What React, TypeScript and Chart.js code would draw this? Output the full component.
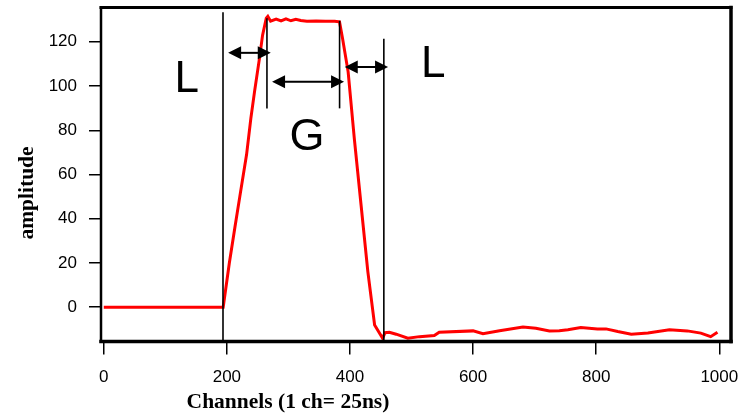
import React, { useEffect, useRef } from "react";
import { Chart, registerables } from "chart.js";

Chart.register(...registerables);

// ---- data ----
const channels = [
  0, 194, 204, 213, 221, 232, 239, 245, 253, 258, 264, 266.5, 271, 280, 288, 296, 304, 312, 320, 330, 345, 360, 375, 383,
  388, 397, 407, 418, 429, 440, 453, 457, 464, 475, 494, 513, 537, 545, 600, 616, 643, 681, 702, 724, 740, 754, 775,
  802, 816, 835, 857, 884, 919, 948, 970, 986, 997,
];
const amplitude = [
  0, 0, 20, 36, 50, 69, 85.5, 97.6, 112.6, 123, 130.7, 131.5, 129.3, 130.3, 129.4, 130.4, 129.5, 130.2, 129.6, 129.3,
  129.4, 129.3, 129.3, 129.0, 121.4, 106.4, 76.3, 46.2, 16.1, -8, -14, -11.5, -11.3, -12.2, -14, -13.3, -12.8, -11.3,
  -10.7, -12, -10.6, -9, -9.5, -10.7, -10.6, -10.2, -9.2, -9.8, -9.8, -11, -12.2, -11.7, -10.2, -10.7, -11.7, -13.3,
  -11.3,
];
const xTicks = [0, 200, 400, 600, 800, 1000];
const yTicks = [0, 20, 40, 60, 80, 100, 120];

// ---- annotations (data coordinates) ----
const markerChannels = [193.7, 265.1, 383.1, 455];
const markerTops = [133.4, 130.6, 129.5, 121.4];
const markerBottoms = [null, 89.8, 89.9, null];
const arrowStarts = [202, 273.4, 391.5];
const arrowEnds = [271.3, 390.4, 461.9];
const arrowLevels = [115, 101.9, 108.6];
const labelTexts = ["L", "G", "L"];
const labelChannels = [134.8, 330, 535.3];
const labelLevels = [97.3, 71.1, 104];

const xTitle = "Channels (1 ch= 25ns)";
const yTitle = "amplitude";

const annotationPlugin = {
  id: "annotations",
  afterDatasetsDraw(chart: any) {
    const { ctx, chartArea, scales } = chart;
    const xs = scales.x;
    const ys = scales.y;
    ctx.save();
    ctx.strokeStyle = "#000";
    ctx.fillStyle = "#000";
    ctx.lineWidth = 1.6;
    markerChannels.forEach((c, i) => {
      const px = xs.getPixelForValue(c);
      const t = ys.getPixelForValue(markerTops[i]);
      const b = markerBottoms[i] === null ? chartArea.bottom : ys.getPixelForValue(markerBottoms[i] as number);
      ctx.beginPath();
      ctx.moveTo(px, t);
      ctx.lineTo(px, b);
      ctx.stroke();
    });
    const headL = 13;
    const headW = 6.5;
    arrowStarts.forEach((s, i) => {
      const x1 = xs.getPixelForValue(s);
      const x2 = xs.getPixelForValue(arrowEnds[i]);
      const py = ys.getPixelForValue(arrowLevels[i]);
      ctx.lineWidth = 2;
      ctx.beginPath();
      ctx.moveTo(x1 + headL - 1, py);
      ctx.lineTo(x2 - headL + 1, py);
      ctx.stroke();
      ctx.beginPath();
      ctx.moveTo(x1, py);
      ctx.lineTo(x1 + headL, py - headW);
      ctx.lineTo(x1 + headL, py + headW);
      ctx.closePath();
      ctx.fill();
      ctx.beginPath();
      ctx.moveTo(x2, py);
      ctx.lineTo(x2 - headL, py - headW);
      ctx.lineTo(x2 - headL, py + headW);
      ctx.closePath();
      ctx.fill();
    });
    ctx.textAlign = "center";
    ctx.textBaseline = "alphabetic";
    labelTexts.forEach((t, i) => {
      ctx.font = (t === "G" ? "45px" : "44px") + " 'Liberation Sans', Arial, sans-serif";
      ctx.fillText(t, xs.getPixelForValue(labelChannels[i]), ys.getPixelForValue(labelLevels[i]));
    });
    ctx.restore();
  },
  afterDraw(chart: any) {
    const { ctx, chartArea } = chart;
    const { left, right, top, bottom } = chartArea;
    ctx.save();
    ctx.strokeStyle = "#000";
    ctx.lineCap = "square";
    ctx.lineWidth = 3;
    ctx.beginPath();
    ctx.moveTo(left, top);
    ctx.lineTo(right, top);
    ctx.stroke();
    ctx.lineWidth = 3.5;
    ctx.beginPath();
    ctx.moveTo(right, top);
    ctx.lineTo(right, bottom);
    ctx.stroke();
    ctx.beginPath();
    ctx.moveTo(left, bottom);
    ctx.lineTo(right, bottom);
    ctx.stroke();
    ctx.lineWidth = 2.5;
    ctx.beginPath();
    ctx.moveTo(left, top);
    ctx.lineTo(left, bottom);
    ctx.stroke();
    ctx.fillStyle = "#000";
    ctx.font = "bold 21.5px 'Liberation Serif', 'Times New Roman', serif";
    ctx.textAlign = "center";
    ctx.textBaseline = "middle";
    ctx.fillText(xTitle, 288, 402);
    ctx.translate(27, 193);
    ctx.rotate(-Math.PI / 2);
    ctx.fillText(yTitle, 0, 0);
    ctx.restore();
  },
};

const noPad = (s: any) => {
  s.paddingTop = 0;
  s.paddingBottom = 0;
  s.paddingLeft = 0;
  s.paddingRight = 0;
};

export default function App() {
  const ref = useRef<HTMLCanvasElement>(null);
  useEffect(() => {
    if (!ref.current) return;
    const chart = new Chart(ref.current, {
      type: "line",
      data: {
        datasets: [
          {
            data: channels.map((c, i) => ({ x: c, y: amplitude[i] })),
            borderColor: "#ff0000",
            borderWidth: 3,
            pointRadius: 0,
            tension: 0,
            fill: false,
          },
        ],
      },
      options: {
        animation: false,
        responsive: false,
        parsing: false as any,
        layout: { padding: { top: 7.5, right: 10, left: 0, bottom: 0 } },
        plugins: { legend: { display: false }, tooltip: { enabled: false }, title: { display: false } },
        scales: {
          x: {
            type: "linear",
            min: -4.5,
            max: 1019,
            afterBuildTicks: (s: any) => {
              s.ticks = xTicks.map((v) => ({ value: v }));
            },
            afterFit: (s: any) => {
              s.height = 73.5;
              noPad(s);
            },
            grid: { drawOnChartArea: false, drawTicks: true, tickLength: 13, color: "#000", lineWidth: 1.5 },
            border: { display: false },
            ticks: {
              color: "#000",
              font: { size: 17, family: "'Liberation Sans', Arial, sans-serif" },
              padding: 13,
              maxRotation: 0,
              autoSkip: false,
              callback: (v: any) => String(v),
            },
          },
          y: {
            type: "linear",
            min: -15.5,
            max: 135.5,
            afterBuildTicks: (s: any) => {
              s.ticks = yTicks.map((v) => ({ value: v }));
            },
            afterFit: (s: any) => {
              s.width = 101;
              noPad(s);
            },
            grid: { drawOnChartArea: false, drawTicks: true, tickLength: 12, color: "#000", lineWidth: 1.5 },
            border: { display: false },
            ticks: {
              color: "#000",
              font: { size: 17, family: "'Liberation Sans', Arial, sans-serif" },
              padding: 12,
              autoSkip: false,
              callback: (v: any) => String(v),
            },
          },
        },
      },
      plugins: [annotationPlugin],
    });
    return () => chart.destroy();
  }, []);
  return (
    <div style={{ position: "absolute", left: 0, top: 0, width: 741, height: 415, background: "#fff" }}>
      <canvas ref={ref} width={741} height={415} style={{ display: "block" }} />
    </div>
  );
}
